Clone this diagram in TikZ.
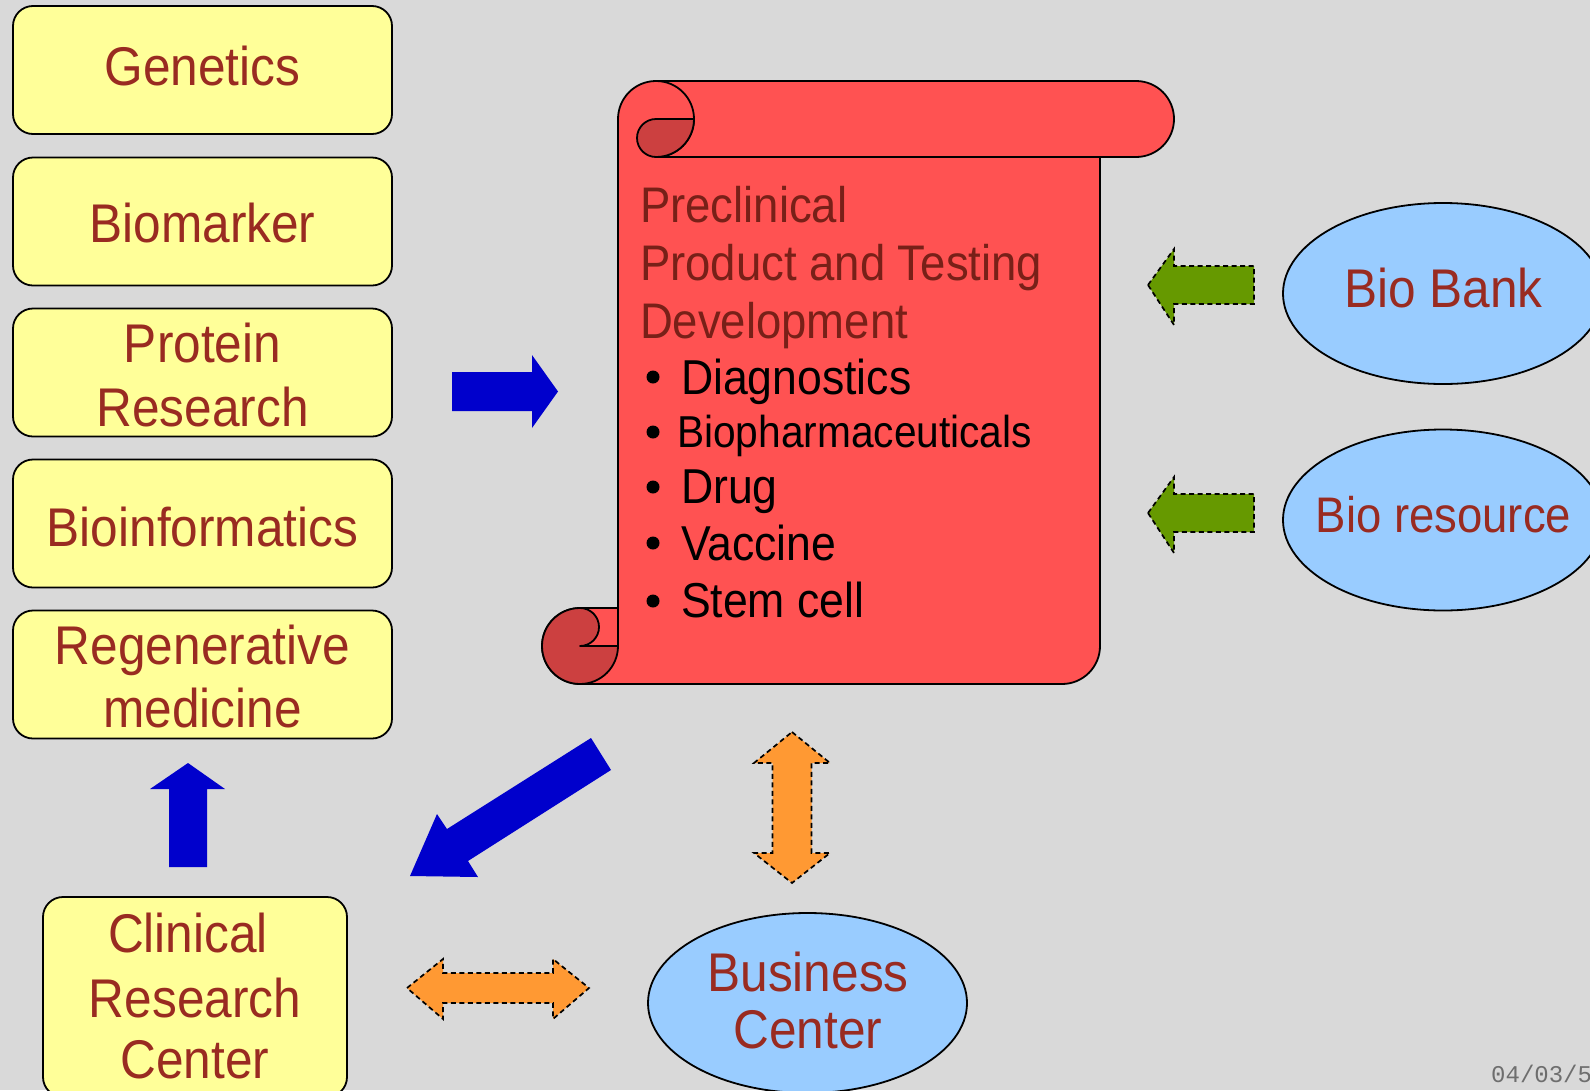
\documentclass[tikz,border=0pt]{standalone}
\usepackage{fontspec}
\setmainfont{Liberation Sans}[FakeStretch=0.91]
\newfontfamily\datefont{Liberation Mono}
\usetikzlibrary{shapes.geometric}
\definecolor{bggray}{RGB}{217,217,217}
\definecolor{boxyellow}{RGB}{255,255,153}
\definecolor{boxtext}{RGB}{153,43,33}
\definecolor{scrollred}{RGB}{255,82,82}
\definecolor{scrolldark}{RGB}{204,64,64}
\definecolor{titletext}{RGB}{120,32,24}
\definecolor{arrowblue}{RGB}{0,0,204}
\definecolor{arroworange}{RGB}{255,153,51}
\definecolor{arrowgreen}{RGB}{102,153,0}
\definecolor{ellblue}{RGB}{153,204,255}
\definecolor{dategray}{RGB}{110,110,110}
\begin{document}
\begin{tikzpicture}[x=1pt,y=-1pt,
  ybox/.style={draw=black, line width=1.8pt, fill=boxyellow, rounded corners=20pt,
    minimum width=379pt, minimum height=128pt, inner sep=0pt, outer sep=0pt},
  bell/.style={ellipse, draw=black, line width=1.8pt, fill=ellblue, inner sep=0pt,
    outer sep=0pt, minimum width=320pt, minimum height=181pt},
  lbl/.style={inner sep=0pt, outer sep=0pt, anchor=base, text=boxtext,
    font=\fontsize{54.5}{60}\selectfont},
  lblsm/.style={lbl, font=\fontsize{50}{56}\selectfont},
  ttl/.style={inner sep=0pt, outer sep=0pt, anchor=base west, text=titletext,
    font=\fontsize{50}{56}\selectfont},
  itm/.style={inner sep=0pt, outer sep=0pt, anchor=base west, text=black,
    font=\fontsize{49}{56}\selectfont},
  itmsm/.style={itm, font=\fontsize{44.7}{52}\selectfont},
  scrollline/.style={draw=black, line width=1.8pt, line join=round},
  bluearrow/.style={fill=arrowblue},
  dasharrow/.style={draw=black, line width=1.7pt, dash pattern=on 5pt off 3.5pt},
]
\useasboundingbox (0,0) rectangle (1590,1090);
\clip (0,0) rectangle (1590,1090);
\fill[bggray] (0,0) rectangle (1590,1090);

% left column boxes
\node[ybox] (gen) at (202.5,70) {};
\node[ybox] (bio) at (202.5,221.5) {};
\node[ybox] (pro) at (202.5,372.5) {};
\node[ybox] (inf) at (202.5,523.5) {};
\node[ybox] (reg) at (202.5,674.5) {};
\node[ybox, minimum width=304pt, minimum height=200pt] (cli) at (195,997) {};

\node[lbl] (gen-t) at (202.5,85) {Genetics};
\node[lbl] (bio-t) at (202.5,242) {Biomarker};
\node[lbl] (pro-t1) at (202.5,362) {Protein};
\node[lbl] (pro-t2) at (202.5,426) {Research};
\node[lbl] (inf-t) at (202.5,546) {Bioinformatics};
\node[lbl] (reg-t1) at (202.5,664) {Regenerative};
\node[lbl] (reg-t2) at (202.5,727) {medicine};
\node[lbl] (cli-t1) at (188,952) {Clinical};
\node[lbl] (cli-t2) at (195,1017) {Research};
\node[lbl] (cli-t3) at (195,1078) {Center};

% scroll
\draw[scrollline, fill=scrollred] (656,81) -- (1136,81)
  arc[start angle=-90, end angle=90, radius=38] -- (1100,157) -- (1100,646)
  arc[start angle=0, end angle=90, radius=38] -- (580,684)
  arc[start angle=90, end angle=270, radius=38] -- (618,608) -- (618,119)
  arc[start angle=180, end angle=270, radius=38] -- cycle;
\draw[scrollline] (656,157) -- (1100,157);
\draw[scrollline] (656,81) arc[start angle=-90, end angle=90, radius=38];
\draw[scrollline, fill=scrolldark] (656,119)
  arc[start angle=270, end angle=90, radius=19]
  arc[start angle=90, end angle=0, radius=38] -- cycle;
\draw[scrollline, fill=scrolldark] (580,646) -- (618,646)
  arc[start angle=0, end angle=270, radius=38]
  arc[start angle=270, end angle=450, radius=19] -- cycle;
\draw[scrollline] (618,608) -- (618,646);

\node[ttl] (s-t1) at (640,222) {Preclinical};
\node[ttl] (s-t2) at (640,280) {Product and Testing};
\node[ttl] (s-t3) at (640,338) {Development};
\foreach \yb in {377,432,487,543,601} \fill[black] (653,\yb) circle[radius=6.5];
\node[itm] (i1) at (681,394) {Diagnostics};
\node[itmsm] (i2) at (677,447) {Biopharmaceuticals};
\node[itm] (i3) at (681,503) {Drug};
\node[itm] (i4) at (681,560) {Vaccine};
\node[itm] (i5) at (681,617) {Stem cell};

% ellipses
\node[bell] (bank) at (1443,293.5) {};
\node[bell] (res) at (1443,520) {};
\node[bell, minimum width=319pt, minimum height=180pt] (bus) at (807.5,1003) {};
\node[lbl] (bank-t) at (1443.5,307) {Bio Bank};
\node[lblsm] (res-t) at (1443.5,532) {Bio resource};
\node[lbl] (bus-t1) at (808,991) {Business};
\node[lbl] (bus-t2) at (808,1048) {Center};

% blue arrows
\fill[bluearrow] (452,372) -- (532,372) -- (532,355) -- (558,391.5) -- (532,428)
  -- (532,411) -- (452,411) -- cycle;
\fill[bluearrow] (169,867) -- (169,789) -- (150,789) -- (188,763) -- (225,789)
  -- (207,789) -- (207,867) -- cycle;
\fill[bluearrow] (591,738) -- (611,770) -- (468,861) -- (478,877) -- (410,876)
  -- (437,814) -- (447,829) -- cycle;

% orange arrows
\fill[arroworange] (792,732) -- (830,763) -- (811.5,763) -- (811.5,853) -- (830,853)
  -- (792,883) -- (754,853) -- (772.5,853) -- (772.5,763) -- (754,763) -- cycle;
\draw[dasharrow] (792,732) -- (830,763) -- (811.5,763) -- (811.5,853) -- (830,853)
  -- (792,883) -- (754,853) -- (772.5,853) -- (772.5,763) -- (754,763) -- cycle;
\fill[arroworange] (407,988) -- (443,959) -- (443,973) -- (553,973) -- (553,959)
  -- (589,988) -- (553,1019) -- (553,1003) -- (443,1003) -- (443,1019) -- cycle;
\draw[dasharrow] (407,988) -- (443,959) -- (443,973) -- (553,973) -- (553,959)
  -- (589,988) -- (553,1019) -- (553,1003) -- (443,1003) -- (443,1019) -- cycle;

% green arrows
\foreach \dy in {0,228} {
  \fill[arrowgreen] (1148,285+\dy) -- (1174,249+\dy) -- (1174,266+\dy) -- (1254,266+\dy)
    -- (1254,304+\dy) -- (1174,304+\dy) -- (1174,325+\dy) -- cycle;
  \draw[dasharrow] (1148,285+\dy) -- (1174,249+\dy) -- (1174,266+\dy) -- (1254,266+\dy)
    -- (1254,304+\dy) -- (1174,304+\dy) -- (1174,325+\dy) -- cycle;
}

% date
\node[inner sep=0pt, anchor=base west, text=dategray, font=\datefont\fontsize{24}{28}\selectfont]
  (date) at (1491,1082) {04/03/5};
\end{tikzpicture}
\end{document}
